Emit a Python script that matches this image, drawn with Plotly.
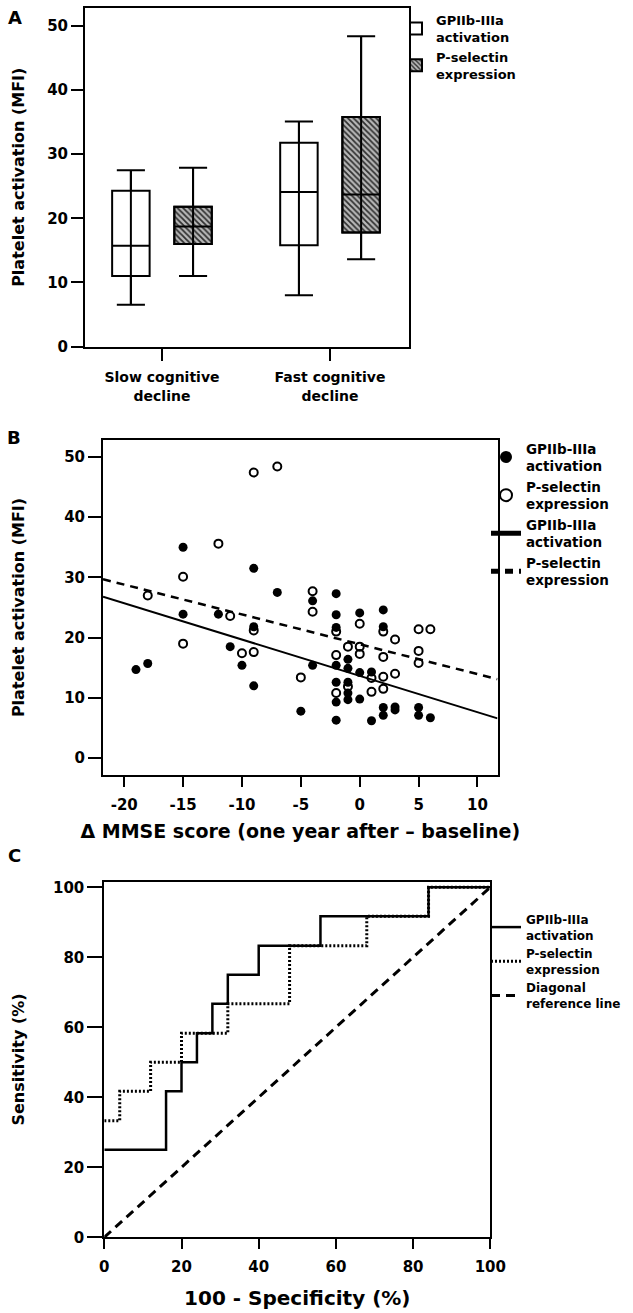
import plotly.graph_objects as go

# ---------------- data ----------------
# Panel A: box-plot summaries, platelet activation (MFI)
groups = ["Slow cognitive<br>decline", "Fast cognitive<br>decline"]
group_pos = [1, 2]
gp_lower = [6.5, 8.0]
gp_q1 = [11.0, 15.8]
gp_median = [15.7, 24.1]
gp_q3 = [24.3, 31.8]
gp_upper = [27.5, 35.1]
ps_lower = [11.0, 13.6]
ps_q1 = [16.0, 17.8]
ps_median = [18.7, 23.7]
ps_q3 = [21.8, 35.8]
ps_upper = [27.9, 48.4]
mfi_ticks = [0, 10, 20, 30, 40, 50]

# Panel B: scatter, delta MMSE vs MFI
gp_dmmse = [-19, -18, -15, -15, -12, -11, -10, -9, -9, -9, -7, -5, -4, -4,
            -2, -2, -2, -2, -2, -2, -2, -1, -1, -1, -1, -1, 0, 0, 0, 1, 1,
            2, 2, 2, 2, 3, 3, 5, 5, 6]
gp_mfi = [14.7, 15.7, 35.0, 23.9, 23.9, 18.5, 15.4, 31.5, 21.8, 12.0, 27.5, 7.8, 26.1, 15.4,
          27.3, 23.8, 21.7, 15.4, 12.6, 9.3, 6.3, 16.4, 14.9, 12.6, 10.8, 9.7, 24.1, 14.2, 9.8, 14.3, 6.2,
          24.6, 21.8, 8.4, 7.1, 8.5, 8.0, 8.4, 7.1, 6.7]
ps_dmmse = [-18, -15, -15, -12, -11, -10, -9, -9, -9, -7, -5, -4, -4,
            -2, -2, -2, -1, -1, 0, 0, 0, 1, 1, 2, 2, 2, 2, 3, 3, 5, 6, 5, 5]
ps_mfi = [27.0, 30.1, 19.0, 35.6, 23.6, 17.4, 47.4, 21.2, 17.6, 48.4, 13.4, 27.7, 24.3,
          21.0, 17.1, 10.8, 18.5, 11.9, 22.3, 18.5, 17.3, 13.3, 11.0, 21.0, 16.8, 13.5, 11.5,
          19.7, 14.0, 21.4, 21.4, 17.8, 15.8]
# linear regression lines (intercept, slope) and their x extent
gp_fit = [13.65, -0.603]
ps_fit = [18.9, -0.495]
fit_x = [-21.8, 11.7]
dmmse_ticks = [-20, -15, -10, -5, 0, 5, 10]
dmmse_ticktext = ["-20", "-15", "-10", "-5", "0", "5", "10"]

# Panel C: ROC curves (100 - specificity, sensitivity) in %
gp_fpr = [0, 16, 20, 24, 28, 32, 40, 56, 84, 100]
gp_tpr = [25, 41.7, 50, 58.3, 66.7, 75, 83.3, 91.7, 100, 100]
ps_fpr = [0, 4, 12, 20, 32, 48, 68, 84, 100]
ps_tpr = [33.3, 41.7, 50, 58.3, 66.7, 83.3, 91.7, 100, 100]
ref_x = [0, 100]
ref_y = [0, 100]
pct_ticks = [0, 20, 40, 60, 80, 100]

# ---------------- figure ----------------
W, H = 633, 1313
FONT = "DejaVu Sans, Verdana, sans-serif"
BOX_OFF = 0.185
BOX_W = 0.223


def px(x):
    return x / W


def py(y):
    return 1 - y / H


fig = go.Figure()

gp_x = [p - BOX_OFF for p in group_pos]
ps_x = [p + BOX_OFF for p in group_pos]

# Panel A boxes
fig.add_trace(go.Box(
    x=gp_x, q1=gp_q1, median=gp_median, q3=gp_q3,
    lowerfence=gp_lower, upperfence=gp_upper,
    width=BOX_W, whiskerwidth=0.75, fillcolor="white",
    line=dict(color="black", width=2), boxpoints=False,
    name="GPIIb-IIIa<br>activation", xaxis="x", yaxis="y", legend="legend"))
fig.add_trace(go.Bar(
    x=ps_x, y=[b - a for a, b in zip(ps_q1, ps_q3)], base=ps_q1, width=BOX_W,
    marker=dict(color="#b8b8b8", line=dict(color="black", width=2),
                pattern=dict(shape="\\", fgcolor="#303030", bgcolor="#b8b8b8",
                             size=4, solidity=0.45)),
    name="P-selectin<br>expression", xaxis="x", yaxis="y", legend="legend"))
fig.add_trace(go.Box(
    x=ps_x, q1=ps_q1, median=ps_median, q3=ps_q3,
    lowerfence=ps_lower, upperfence=ps_upper,
    width=BOX_W, whiskerwidth=0.75, fillcolor="rgba(0,0,0,0)",
    line=dict(color="black", width=2), boxpoints=False,
    name="P-selectin", showlegend=False, xaxis="x", yaxis="y"))
# whisker stems drawn through the boxes
wx, wy = [], []
for xs, lo, hi in ((gp_x, gp_lower, gp_upper), (ps_x, ps_lower, ps_upper)):
    for x0, l, h in zip(xs, lo, hi):
        wx += [x0, x0, None]
        wy += [l, h, None]
fig.add_trace(go.Scatter(x=wx, y=wy, mode="lines", line=dict(color="black", width=2),
                         showlegend=False, hoverinfo="skip", xaxis="x", yaxis="y"))

# Panel B scatter
fig.add_trace(go.Scatter(
    x=gp_dmmse, y=gp_mfi, mode="markers",
    marker=dict(symbol="circle", size=9, color="black"),
    name="GPIIb-IIIa<br>activation", xaxis="x2", yaxis="y2", legend="legend2"))
fig.add_trace(go.Scatter(
    x=ps_dmmse, y=ps_mfi, mode="markers",
    marker=dict(symbol="circle-open", size=8, color="black", line=dict(width=2)),
    name="P-selectin<br>expression", xaxis="x2", yaxis="y2", legend="legend2"))
fig.add_trace(go.Scatter(
    x=fit_x, y=[gp_fit[0] + gp_fit[1] * v for v in fit_x], mode="lines",
    line=dict(color="black", width=2),
    name="GPIIb-IIIa<br>activation", xaxis="x2", yaxis="y2", legend="legend2"))
fig.add_trace(go.Scatter(
    x=fit_x, y=[ps_fit[0] + ps_fit[1] * v for v in fit_x], mode="lines",
    line=dict(color="black", width=2.5, dash="8px,6px"),
    name="P-selectin<br>expression", xaxis="x2", yaxis="y2", legend="legend2"))

# Panel C ROC
fig.add_trace(go.Scatter(
    x=gp_fpr, y=gp_tpr, mode="lines", line=dict(color="black", width=2.5, shape="hv"),
    name="GPIIb-IIIa<br>activation", xaxis="x3", yaxis="y3", legend="legend3"))
fig.add_trace(go.Scatter(
    x=ps_fpr, y=ps_tpr, mode="lines",
    line=dict(color="black", width=3, shape="hv", dash="2px,2px"),
    name="P-selectin<br>expression", xaxis="x3", yaxis="y3", legend="legend3"))
fig.add_trace(go.Scatter(
    x=ref_x, y=ref_y, mode="lines", line=dict(color="black", width=3, dash="9px,6px"),
    name="Diagonal<br>reference line", xaxis="x3", yaxis="y3", legend="legend3"))

bold = dict(family=FONT, color="black", weight="bold")


def axis_style(**kw):
    d = dict(showline=True, linecolor="black", linewidth=2, mirror=True,
             ticks="outside", tickwidth=2, tickcolor="black",
             showgrid=False, zeroline=False, automargin=False,
             tickfont=dict(size=15, **bold), title_font=dict(size=16, **bold))
    d.update(kw)
    return d


legend_common = dict(xanchor="left", yanchor="top", bgcolor="rgba(0,0,0,0)",
                     tracegroupgap=0, itemwidth=30, traceorder="normal")


def letter(t, x, y):
    return dict(text=t, x=px(x), y=py(y), xref="paper", yref="paper", showarrow=False,
                xanchor="center", yanchor="middle", font=dict(size=18, **bold))


fig.update_layout(
    template="none",
    width=W, height=H, margin=dict(l=0, r=0, t=0, b=0, autoexpand=False),
    paper_bgcolor="white", plot_bgcolor="white",
    font=dict(family=FONT, color="black"),
    barmode="overlay", boxmode="overlay",
    xaxis=axis_style(domain=[px(85), px(409)], range=[0.542, 2.470],
                     tickvals=group_pos, ticktext=groups, ticklen=12, anchor="y",
                     ticklabelstandoff=5, tickfont=dict(size=14, **bold)),
    yaxis=axis_style(domain=[py(346.5), py(8)], range=[0, 52.8],
                     tickvals=mfi_ticks, ticklen=12, anchor="x",
                     title=dict(text="Platelet activation (MFI)", standoff=19)),
    xaxis2=axis_style(domain=[px(103), px(497.5)], range=[-21.8, 11.7],
                      tickvals=dmmse_ticks, ticktext=dmmse_ticktext, ticklen=10, anchor="y2",
                      ticklabelstandoff=5,
                      title=dict(text="\u0394 MMSE score (one year after \u2013 baseline)",
                                 standoff=12, font=dict(size=19, **bold))),
    yaxis2=axis_style(domain=[py(775), py(440)], range=[-2.8, 52.8],
                      tickvals=mfi_ticks, ticklen=13, anchor="x2",
                      title=dict(text="Platelet activation (MFI)", standoff=36)),
    xaxis3=axis_style(domain=[px(104.3), px(490.3)], range=[0, 100],
                      tickvals=pct_ticks, ticklen=10, anchor="y3", ticklabelstandoff=5,
                      title=dict(text="100 - Specificity (%)", standoff=16,
                                 font=dict(size=20, **bold))),
    yaxis3=axis_style(domain=[py(1237.3), py(881.7)], range=[0, 101.6],
                      tickvals=pct_ticks, ticklen=15, anchor="x3",
                      title=dict(text="Sensitivity (%)", standoff=24)),
    legend=dict(x=px(396), y=py(5), font=dict(size=13, **bold), **legend_common),
    legend2=dict(x=px(486), y=py(433), font=dict(size=13.5, **bold),
                 itemsizing="constant", **legend_common),
    legend3=dict(x=px(486), y=py(905), font=dict(size=12, **bold), **legend_common),
    annotations=[letter("A", 15, 18), letter("B", 14, 437), letter("C", 14, 855)],
)

fig.write_html("out.html", config={"displayModeBar": False},
               post_script="document.body.style.margin='0';")
